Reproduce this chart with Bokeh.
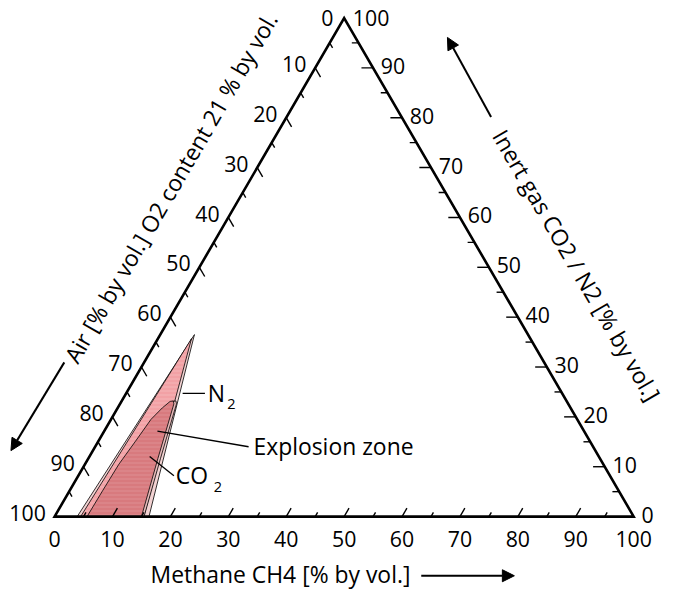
import numpy as np
from bokeh.plotting import figure
from bokeh.models import Range1d, Arrow, NormalHead
from bokeh.core.properties import value
from bokeh.embed import file_html
from bokeh.resources import INLINE

# ---------------- data ----------------
major_ticks = [0, 10, 20, 30, 40, 50, 60, 70, 80, 90, 100]
minor_ticks = [5, 15, 25, 35, 45, 55, 65, 75, 85, 95]
tick_labels = ["0", "10", "20", "30", "40", "50", "60", "70", "80", "90", "100"]

# N2 explosion zone (methane %, inert gas %)
n2_methane = [3.9, 5.9, 16.3]
n2_inert = [0.0, 36.5, 0.0]

# CO2 explosion zone (methane %, inert gas %)
co2_methane = [5.6, 5.7, 5.85, 6.4, 6.9, 7.7, 8.4, 8.9, 9.3, 12.0, 15.0]
co2_inert = [0.0, 5.3, 10.5, 15.0, 19.5, 21.8, 23.1, 23.2, 22.6, 11.7, 0.0]

title_bottom = "Methane CH4 [% by vol.]"
title_left = "Air [% by vol.] O2 content 21 % by vol."
title_right = "Inert gas CO2 / N2 [% by vol.]"
label_n2 = ["N", "2"]
label_co2 = ["CO", "2"]
label_zone = "Explosion zone"

# ---------------- geometry ----------------
W, H = 666, 594
F = 0.97                  # overall scale so that everything fits the canvas
OX, OY = -1.2, -4.8       # canvas offset
S = 5.97 * F              # px per data unit
CX = F * 57 + OX          # canvas px of the 100 % air corner
CY = F * 537 + OY
K = 0.861                 # triangle height / base

def tern(m, g):
    m = np.asarray(m, float)
    g = np.asarray(g, float)
    return m + 0.5 * g, K * g

def page(px, py):
    # layout position (in 682x610 reference pixels) -> data coordinates
    return (px - 57) / 5.97, (537 - py) / 5.97

def fs(v):
    return "%.1fpx" % (v * F)

FONT = value("Open Sans")

p = figure(width=W, height=H, output_backend="svg", toolbar_location=None,
           x_range=Range1d(-CX / S, (W - CX) / S),
           y_range=Range1d(-(H - CY) / S, CY / S),
           x_axis_location=None, y_axis_location=None, min_border=0)
p.grid.visible = False
p.outline_line_color = None

# ---------------- zones ----------------
nx, ny = tern(n2_methane, n2_inert)
p.patch(nx, ny, fill_color="#f2d2d2", line_color="black", line_width=0.8)
nm_in = [n2_methane[0] + 0.6, n2_methane[1] - 0.1, n2_methane[2] - 0.9]
ng_in = [n2_inert[0], n2_inert[1] - 0.8, n2_inert[2]]
nx2, ny2 = tern(nm_in, ng_in)
p.patch(nx2, ny2, fill_color="#f2a1a5", line_color="black", line_width=0.8,
        hatch_pattern="horizontal_line", hatch_color="white", hatch_alpha=0.2,
        hatch_scale=4, hatch_weight=1)

cx, cy = tern(np.array(co2_methane) + 0.45, co2_inert)
p.patch(cx, cy, fill_color="#e7b9b9", line_color="black", line_width=0.8)
cx2, cy2 = tern(co2_methane, co2_inert)
p.patch(cx2, cy2, fill_color="#d87a7e", line_color="black", line_width=0.8,
        hatch_pattern="horizontal_line", hatch_color="white", hatch_alpha=0.15,
        hatch_scale=4, hatch_weight=1)

# ---------------- triangle ----------------
tx, ty = tern([0, 100, 0, 0], [0, 0, 100, 0])
p.patch(tx, ty, fill_color=None, line_color="black", line_width=2.6, line_join="miter")

# ---------------- ticks ----------------
L = np.hypot(0.5, K)
d_left = np.array([0.5, -K]) / L    # parallel to right edge
d_bottom = np.array([0.5, K]) / L   # parallel to left edge
d_right = np.array([-1.0, 0.0])     # parallel to bottom edge

x0, y0, x1, y1 = [], [], [], []
for vals, ll, lb, lr in [(major_ticks[1:-1], 11, 10, 12), (minor_ticks, 6, 5, 7)]:
    for v in vals:
        ax, ay = tern(0, 100 - v)
        x0.append(ax); y0.append(ay)
        x1.append(ax + d_left[0] * ll / 5.97); y1.append(ay + d_left[1] * ll / 5.97)
        bx, by = tern(v, 0)
        x0.append(bx); y0.append(by)
        x1.append(bx + d_bottom[0] * lb / 5.97); y1.append(by + d_bottom[1] * lb / 5.97)
        rx, ry = tern(100 - v, v)
        x0.append(rx); y0.append(ry)
        x1.append(rx + d_right[0] * lr / 5.97); y1.append(ry + d_right[1] * lr / 5.97)
p.segment(x0, y0, x1, y1, line_color="black", line_width=1.4)

# ---------------- tick labels ----------------
TS = fs(22)
lx, ly = tern(np.zeros(len(major_ticks)), 100 - np.array(major_ticks, float))
p.text(lx[1:], ly[1:], text=tick_labels[1:], x_offset=-9 * F, y_offset=-4 * F,
       text_align="right", text_baseline="middle", text_font=FONT,
       text_font_size=TS, text_color="black")
p.text(lx[:1], ly[:1], text=tick_labels[:1], x_offset=-11 * F, y_offset=0,
       text_align="right", text_baseline="middle", text_font=FONT,
       text_font_size=TS, text_color="black")
rx, ry = tern(100 - np.array(major_ticks, float), major_ticks)
p.text(rx[:-1], ry[:-1], text=tick_labels[:-1], x_offset=8 * F, y_offset=-2 * F,
       text_align="left", text_baseline="middle", text_font=FONT,
       text_font_size=TS, text_color="black")
p.text(rx[-1:], ry[-1:], text=tick_labels[-1:], x_offset=9 * F, y_offset=0,
       text_align="left", text_baseline="middle", text_font=FONT,
       text_font_size=TS, text_color="black")
bx, by = tern(major_ticks, np.zeros(len(major_ticks)))
p.text(bx, by, text=tick_labels, x_offset=0, y_offset=23 * F, text_align="center",
       text_baseline="middle", text_font=FONT, text_font_size=TS, text_color="black")

# ---------------- titles ----------------
ANG = float(np.arctan2(K, 0.5))
TT = fs(23.6)
tlx, tly = page(177, 198)
p.text([tlx], [tly], text=[title_left], angle=ANG, text_align="center",
       text_baseline="middle", text_font=FONT, text_font_size=TT, text_color="black")
trx, try_ = page(595, 278)
p.text([trx], [try_], text=[title_right], angle=-ANG, text_align="center",
       text_baseline="middle", text_font=FONT, text_font_size=TT, text_color="black")
tbx, tby = page(156, 597)
p.text([tbx], [tby], text=[title_bottom], text_align="left",
       text_baseline="middle", text_font=FONT, text_font_size=TT, text_color="black")

# ---------------- arrows ----------------
def arrow(a, b):
    (xs, ys), (xe, ye) = page(*a), page(*b)
    p.add_layout(Arrow(end=NormalHead(size=12, fill_color="black", line_color="black"),
                       x_start=xs, y_start=ys, x_end=xe, y_end=ye,
                       line_color="black", line_width=2))

arrow((67, 378), (12, 469))
arrow((507, 125), (462, 43))
arrow((435, 598), (531, 598))

# ---------------- annotations ----------------
segs = [((189, 410), (212, 410)), ((163, 449), (257, 465)), ((155, 475), (180, 495))]
sx0, sy0, sx1, sy1 = [], [], [], []
for a, b in segs:
    (xa, ya), (xb, yb) = page(*a), page(*b)
    sx0.append(xa); sy0.append(ya); sx1.append(xb); sy1.append(yb)
p.segment(sx0, sy0, sx1, sy1, line_color="black", line_width=1.3)

def label(txt, pos, size):
    x, y = page(*pos)
    p.text([x], [y], text=[txt], text_align="left", text_baseline="middle",
           text_font=FONT, text_font_size=size, text_color="black")

label(label_n2[0], (215, 410), TT)
label(label_n2[1], (235, 421), fs(15))
label(label_zone, (262, 465), TT)
label(label_co2[0], (182, 495), TT)
label(label_co2[1], (221, 506), fs(15))

open("out.html", "w").write(file_html(p, INLINE))
